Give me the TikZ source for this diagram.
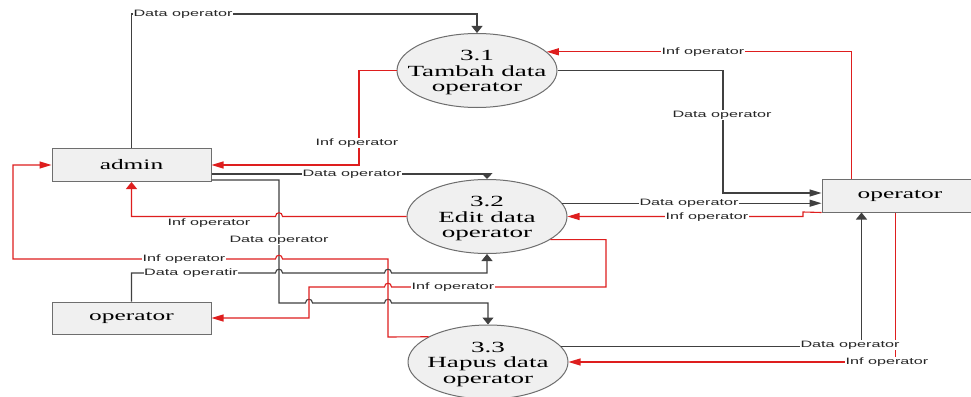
\documentclass[tikz,border=0pt]{standalone}
\usepackage{fontspec}
\setmainfont{Liberation Serif}
\newfontfamily\lblfam[FakeStretch=1.75]{Liberation Sans}
\newfontfamily\nodefam[FakeStretch=1.75]{Liberation Serif}
\usetikzlibrary{arrows.meta,shapes.geometric,calc}
\definecolor{lineblk}{RGB}{64,64,64}
\definecolor{linered}{RGB}{222,30,30}
\definecolor{nodefill}{RGB}{240,240,240}
\definecolor{nodeedge}{RGB}{110,110,110}
\newcommand{\toprl}{\rule{0pt}{14.5pt}}
\begin{document}
\begin{tikzpicture}[x=1pt,y=-1pt,
  entity/.style={draw=nodeedge, fill=nodefill, line width=1pt, minimum width=159pt, minimum height=33pt, inner sep=0pt, font=\nodefam\fontsize{14.5}{15}\selectfont},
  proc/.style={ellipse, draw=nodeedge, fill=nodefill, line width=1pt, minimum width=160pt, minimum height=74pt, inner xsep=-16pt, inner ysep=0pt, align=center, font=\nodefam\fontsize{15.5}{15.5}\selectfont},
  bflow/.style={draw=lineblk, line width=1.1pt},
  rflow/.style={draw=linered, line width=1.1pt},
  ha/.style={-{Triangle[length=12pt,width=7pt]}},
  va/.style={-{Triangle[length=7pt,width=11pt]}},
  lbl/.style={fill=white, inner sep=0.6pt, text=black!85, font=\lblfam\fontsize{9.25}{10}\selectfont},
  hopR/.style 2 args={insert path={-- ({#1-3.5},#2) .. controls ({#1-3.5},{#2-5}) and ({#1+3.5},{#2-5}) .. ({#1+3.5},#2)}},
  hopL/.style 2 args={insert path={-- ({#1+3.5},#2) .. controls ({#1+3.5},{#2-5}) and ({#1-3.5},{#2-5}) .. ({#1-3.5},#2)}}
]
\useasboundingbox (0,0) rectangle (971,396);
\fill[white] (0,0) rectangle (971,396);

% nodes
\node[entity] (admin) at (131.5,165) {admin};
\node[entity, minimum height=32pt] (opL) at (131.5,318) {operator};
\node[entity, minimum width=156pt] (opR) at (900,195.5) {operator};
\node[proc] (c31) at (477,70.5) {\toprl 3.1\\Tambah data\\operator};
\node[proc] (c32) at (487,216.5) {\toprl 3.2\\Edit data\\operator};
\node[proc] (c33) at (488,362) {\toprl 3.3\\Hapus data\\operator};

% connectors
\draw[bflow,va] (admin.north) -- (131.5,14) -| (c31.north);
\draw[rflow,ha] (c31.west) -- (359,70.5) |- (admin.east);
\draw[bflow,-{Triangle[length=6pt,width=11pt]}] ($(admin.east)+(0,9)$) -| (c32.north);
\draw[bflow,va] ($(admin.east)+(0,15)$) -- (279,180) -- (279,303) [hopR={309}{303}] [hopR={388}{303}] -| (c33.north);
\draw[rflow,va] (c32.west) [hopL={279}{216.5}] -| (admin.south);
\draw[rflow,ha] (c33.157) -- (388,337) -- (388,259) [hopL={279}{259}] -- (13,259) |- (admin.west);
\draw[bflow,va] (opL.north) -- (131.5,273) [hopR={279}{273}] [hopR={388}{273}] -| (c32.south);
\draw[rflow,ha] (c32.340) -| (606,287) [hopL={388}{287}] -- (309,287) |- (opL.east);
\draw[bflow,ha] (c31.east) -| (723,193) -- ($(opR.west)+(0,-2.5)$);
\draw[rflow,ha] ($(opR.north west)+(30,0)$) |- (c31.15);
\draw[bflow,ha] (c32.10) -- (c32.10 -| opR.west);
\draw[rflow,ha] (opR.south west) -- (803,212) -- (803,216.5) -- (c32.east);
\draw[bflow,va] (c33.12.5) -| ($(opR.south west)+(40,0)$);
\draw[rflow,ha] ($(opR.south west)+(74,0)$) |- (c33.east);

% labels
\node[lbl] (l1) at (183,14) {Data operator};
\node[lbl] (l2) at (357,143) {Inf operator};
\node[lbl] (l3) at (352,174) {Data operator};
\node[lbl] (l4) at (279,240) {Data operator};
\node[lbl, fill=none] (l5) at (209,223) {Inf operator};
\node[lbl] (l6) at (184,259) {Inf operator};
\node[lbl] (l7) at (191,273) {Data operatir};
\node[lbl] (l8) at (453,287) {Inf operator};
\node[lbl] (l9) at (722,115) {Data operator};
\node[lbl] (l10) at (703,52) {Inf operator};
\node[lbl] (l11) at (689,203) {Data operator};
\node[lbl] (l12) at (707,217) {Inf operator};
\node[lbl] (l13) at (850,345) {Data operator};
\node[lbl] (l14) at (887,362) {Inf operator};
\end{tikzpicture}
\end{document}
